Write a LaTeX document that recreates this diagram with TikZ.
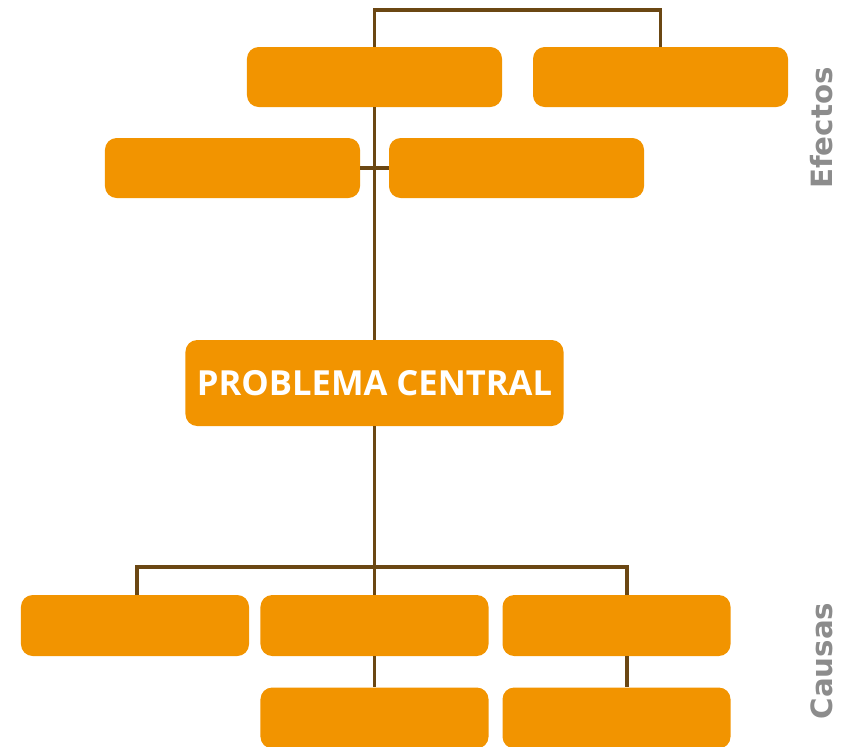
\documentclass[tikz,border=0pt]{standalone}
\usepackage{fontspec}
\setmainfont{Open Sans}
\newfontfamily\labelfont{DejaVu Sans}
\usetikzlibrary{positioning}

\definecolor{boxorange}{HTML}{F29400}
\definecolor{linebrown}{HTML}{6B4713}
\definecolor{labelgray}{HTML}{8C8C8C}

\tikzset{
  box/.style={fill=boxorange, rounded corners=10pt, inner sep=0pt,
              minimum width=7.65cm, minimum height=1.8cm},
  smallbox/.style={box, minimum width=6.84cm, minimum height=1.83cm},
  link/.style={draw=linebrown, line width=2.6pt},
  side/.style={font=\labelfont\bfseries\fontsize{25}{25}\selectfont,
               text=labelgray, rotate=90}
}

\begin{document}
\begin{tikzpicture}[x=0.03cm, y=-0.03cm]
	\useasboundingbox (0,0) rectangle (850,746);

	% efectos
	\node[box] (a) at (374.5,77) {};
	\node[box] (b) at (660.5,77) {};
	\node[box] (c) at (232.5,168) {};
	\node[box] (d) at (516.5,168) {};

	% problema central
	\node[box, minimum width=11.34cm, minimum height=2.58cm, text=white,
	      font=\bfseries\fontsize{29.5}{29.5}\selectfont] (p) at (374.5,383) {PROBLEMA CENTRAL};

	% causas
	\node[smallbox] (e) at (135,625.5) {};
	\node[smallbox] (f) at (374.5,625.5) {};
	\node[smallbox] (g) at (616.5,625.5) {};
	\node[smallbox] (h) at (374.5,718) {};
	\node[smallbox] (i) at (616.5,718) {};

	\coordinate (top) at (517,10);
	\coordinate (mid) at (374.5,567);
	\coordinate (el) at (137,567);
	\coordinate (gr) at (627,567);

	\draw[link] (a.north) |- (top) -| (b.north);
	\draw[link] (a.south) -- (p.north);
	\draw[link] (c.east) -- (d.west);
	\draw[link] (p.south) -- (mid);
	\draw[link] (el |- e.north) -- (el) -- (gr) -- (gr |- g.north);
	\draw[link] (mid) -- (f.north);
	\draw[link] (f.south) -- (h.north);
	\draw[link] (gr |- g.south) -- (gr |- i.north);

	\node[side] (efectos) at (822,128) {Efectos};
	\node[side] (causas) at (822,661) {Causas};
\end{tikzpicture}
\end{document}
